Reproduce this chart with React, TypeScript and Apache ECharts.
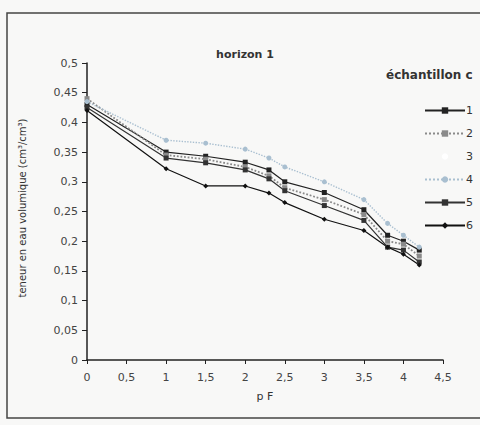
import React, { useEffect, useRef } from "react";
import * as echarts from "echarts";

const pF = [0, 1, 1.5, 2, 2.3, 2.5, 3, 3.5, 3.8, 4, 4.2];
const s1 = [0.43, 0.35, 0.343, 0.333, 0.32, 0.3, 0.282, 0.253, 0.21, 0.2, 0.185];
const s2 = [0.44, 0.345, 0.338, 0.325, 0.31, 0.29, 0.27, 0.245, 0.2, 0.195, 0.175];
const s3: number[] = [];
const s4 = [0.435, 0.37, 0.365, 0.355, 0.34, 0.325, 0.3, 0.27, 0.23, 0.21, 0.19];
const s5 = [0.425, 0.34, 0.332, 0.32, 0.305, 0.285, 0.26, 0.235, 0.19, 0.185, 0.165];
const s6 = [0.42, 0.322, 0.293, 0.293, 0.281, 0.265, 0.237, 0.218, 0.19, 0.178, 0.16];
const seriesNames = ["1", "2", "3", "4", "5", "6"];
const yTicks = [0, 0.05, 0.1, 0.15, 0.2, 0.25, 0.3, 0.35, 0.4, 0.45, 0.5];

const pair = (ys: number[]) => ys.map((y, i) => [pF[i], y]);
const fmt = (v: number) => String(Math.round(v * 100) / 100).replace(".", ",");

export default function App() {
  const ref = useRef<HTMLDivElement>(null);
  useEffect(() => {
    if (!ref.current) return;
    const chart = echarts.init(ref.current, undefined, { renderer: "svg" });
    const font = "DejaVu Sans";
    const mk = (
      name: string,
      data: number[],
      color: string,
      symbol: string,
      lineType: any = "solid",
      width = 1.2
    ) => ({
      name,
      type: "line",
      data: pair(data),
      symbol,
      symbolSize: 5,
      itemStyle: { color },
      lineStyle: { color, width, type: lineType },
    });
    chart.setOption({
      animation: false,
      backgroundColor: "#f8f8f7",
      textStyle: { fontFamily: font },
      graphic: [
        {
          type: "rect",
          shape: { x: 7, y: 13, width: 480, height: 405 },
          style: { fill: "none", stroke: "#444", lineWidth: 1.5 },
          silent: true,
        },
        {
          type: "text",
          x: 245,
          y: 54,
          style: {
            text: "horizon 1",
            font: "bold 11px DejaVu Sans",
            fill: "#333",
            textAlign: "center",
            textVerticalAlign: "middle",
          },
        },
        {
          type: "text",
          x: 386,
          y: 75,
          style: {
            text: "échantillon c",
            font: "bold 12px DejaVu Sans",
            fill: "#333",
            textVerticalAlign: "middle",
          },
        },
        {
          type: "text",
          x: 22,
          y: 208,
          rotation: Math.PI / 2,
          style: {
            text: "teneur en eau volumique (cm³/cm³)",
            font: "10px DejaVu Sans",
            fill: "#333",
            textAlign: "center",
            textVerticalAlign: "middle",
          },
        },
      ],
      legend: {
        orient: "vertical",
        left: 419,
        top: 100,
        itemWidth: 40,
        itemHeight: 8,
        itemGap: 12,
        data: seriesNames,
        textStyle: { fontSize: 11, color: "#333", fontFamily: font, padding: [0, 0, 0, -4] },
      },
      grid: { left: 87, top: 63, width: 356, height: 297 },
      xAxis: {
        type: "value",
        min: 0,
        max: 4.5,
        interval: 0.5,
        name: "p F",
        nameLocation: "middle",
        nameGap: 31,
        nameTextStyle: { fontSize: 11, color: "#333" },
        splitLine: { show: false },
        axisLine: { lineStyle: { color: "#222", width: 1.5 } },
        axisTick: { inside: false, length: 4, lineStyle: { color: "#222" } },
        axisLabel: { fontSize: 11, color: "#444", margin: 12, formatter: fmt },
      },
      yAxis: {
        type: "value",
        min: 0,
        max: 0.5,
        interval: 0.05,
        splitLine: { show: false },
        axisLine: { show: true, lineStyle: { color: "#222", width: 1.5 } },
        axisTick: { show: true, length: 5, lineStyle: { color: "#222" } },
        axisLabel: {
          fontSize: 11,
          color: "#444",
          margin: 9,
          formatter: (v: number) => (yTicks.some((t) => Math.abs(t - v) < 1e-6) ? fmt(v) : ""),
        },
      },
      series: [
        mk("1", s1, "#222", "rect"),
        mk("2", s2, "#8a8a8a", "rect", "dotted", 1.8),
        { name: "3", type: "line", data: pair(s3), itemStyle: { color: "rgba(0,0,0,0)" }, lineStyle: { color: "rgba(0,0,0,0)" } },
        mk("4", s4, "#a9bfd0", "circle", "dotted", 1.4),
        mk("5", s5, "#333", "rect"),
        mk("6", s6, "#111", "diamond"),
      ],
    });
    return () => chart.dispose();
  }, []);
  return <div ref={ref} style={{ width: 480, height: 425, position: "absolute", left: 0, top: 0 }} />;
}
